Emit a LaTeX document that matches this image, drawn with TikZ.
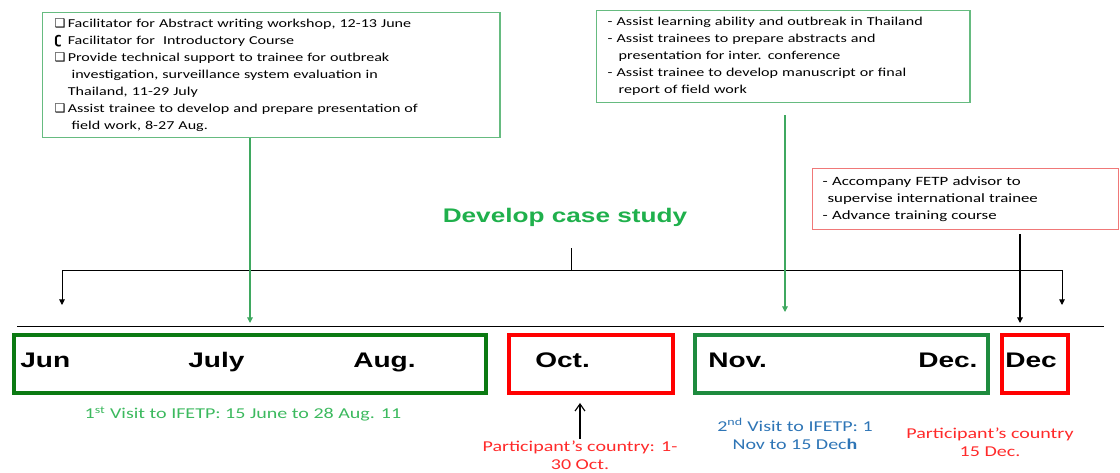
\documentclass[tikz,border=0pt]{standalone}
\usepackage{fontspec}
\setmainfont{Carlito}[FakeStretch=1.33]
\newfontfamily\headfont{Liberation Sans}[FakeStretch=1.33]
\newfontfamily\symfont{DejaVu Sans}
\usetikzlibrary{arrows.meta}

\definecolor{boxgreen}{HTML}{66BB80}
\definecolor{arrowgreen}{HTML}{3FA860}
\definecolor{titlegreen}{HTML}{1FB04C}
\definecolor{darkgreen}{HTML}{0B7A12}
\definecolor{midgreen}{HTML}{1E8B3E}
\definecolor{boxred}{HTML}{F07878}
\definecolor{visitblue}{HTML}{2E75B6}
\definecolor{textred}{HTML}{FF2A2A}
\definecolor{visitgreen}{HTML}{3CB95E}

\newcommand{\bul}[1]{\makebox[9.3pt][l]{\symfont\bfseries #1}}

\tikzset{
    actbox/.style={draw, line width=1pt, anchor=north west, align=left,
        font=\fontsize{8.6}{12.1}\selectfont},
    month/.style={anchor=base west, inner sep=0pt,
        font=\headfont\bfseries\fontsize{15}{18}\selectfont},
    note/.style={align=center, inner sep=1pt,
        font=\fontsize{10.7}{12.8}\selectfont}
}

\begin{document}
\begin{tikzpicture}[x=0.025cm, y=-0.025cm]
\useasboundingbox (0, 0) rectangle (1120, 473);

% activity boxes
\node (act1) at (42, 12) [actbox, draw=boxgreen, text width=10.825cm, inner xsep=0.3cm, inner ysep=0.15cm]
    {\bul{❑}Facilitator for Abstract writing workshop, 12-13 June\\
     \bul{ʗ}Facilitator for\ \ Introductory Course\\
     \bul{❑}Provide technical support to trainee for outbreak\\
     \hspace*{12pt}investigation, surveillance system evaluation in\\
     \hspace*{9.3pt}Thailand, 11-29 July\\
     \bul{❑}Assist trainee to develop and prepare presentation of\\
     \hspace*{12pt}field work, 8-27 Aug.};

\node (act2) at (596, 10) [actbox, draw=boxgreen, text width=8.775cm, inner xsep=0.275cm, inner ysep=0.17cm]
    {- Assist learning ability and outbreak in Thailand\\
     - Assist trainees to prepare abstracts and\\
     \hspace*{7.8pt}presentation for inter. conference\\
     - Assist trainee to develop manuscript or final\\
     \hspace*{7.8pt}report of field work};

\node (act3) at (812, 168) [actbox, draw=boxred, text width=7.15cm, inner xsep=0.25cm, inner ysep=0.2cm,
        font=\fontsize{9}{12.1}\selectfont]
    {- Accompany FETP advisor to\\
     \hspace*{3.5pt}supervise international trainee\\
     - Advance training course};

\node (title) at (565, 217) [font=\headfont\bfseries\fontsize{14}{17}\selectfont, text=titlegreen]
    {Develop case study};

% bracket and time axis
\coordinate (bt) at (571, 248);
\coordinate (bm) at (571, 270);
\coordinate (bl) at (62, 305);
\coordinate (br) at (1062, 305);
\coordinate (axl) at (17, 326);
\coordinate (axr) at (1104, 326);

\begin{scope}[>={Triangle[length=4pt, width=4pt]}, line width=0.7pt]
    \draw (bt) -- (bm);
    \draw [->] (bm) -| (bl);
    \draw [->] (bm) -| (br);
    \draw (axl) -- (axr);
\end{scope}

% period boxes
\begin{scope}[every node/.style={draw, line width=2.8pt, minimum height=1.45cm}]
    \node (summer) at (250, 364) [draw=darkgreen, minimum width=11.8cm] {};
    \node (oct) at (591, 364) [draw=red, minimum width=4.1cm] {};
    \node (novdec) at (841.5, 364) [draw=midgreen, minimum width=7.325cm] {};
    \node (dec) at (1035, 364) [draw=red, minimum width=1.65cm] {};
\end{scope}

\node (jun) at (20, 367) [month] {Jun};
\node (jul) at (188, 367) [month] {July};
\node (aug) at (353, 367) [month] {Aug.};
\node (octl) at (535, 367) [month] {Oct.};
\node (nov) at (708, 367) [month] {Nov.};
\node (decl) at (918, 367) [month] {Dec.};
\node (decr) at (1005, 367) [month] {Dec};

% notes below
\node (visit1) at (243, 414) [note, text=visitgreen]
    {1\textsuperscript{st} Visit to IFETP: 15 June to 28 Aug. 11};
\node (ctry1) at (580, 455) [note, text=textred]
    {Participant’s country: 1-\\30 Oct.};
\node (visit2) at (795, 434) [note, text=visitblue]
    {2\textsuperscript{nd} Visit to IFETP: 1\\Nov to 15 Dec\textbf{h}};
\node (ctry2) at (990, 442) [note, text=textred]
    {Participant’s country\\15 Dec.};

% arrows
\coordinate (t1) at (250, 323);
\coordinate (t2) at (785, 312);
\coordinate (t3) at (1020, 323);

\begin{scope}[>={Triangle[length=4pt, width=4pt]}, line width=0.8pt]
    \draw [->, arrowgreen] (act1.south -| t1) -- (t1);
    \draw [->, arrowgreen, shorten <=0.3cm] (act2.south -| t2) -- (t2);
    \draw [->, shorten <=0.1cm] (act3.south -| t3) -- (t3);
    \draw [-{Straight Barb[length=5pt, width=7pt]}, shorten >=0.2cm] (ctry1.north) -- (ctry1.north |- oct.south);
\end{scope}
\end{tikzpicture}
\end{document}
